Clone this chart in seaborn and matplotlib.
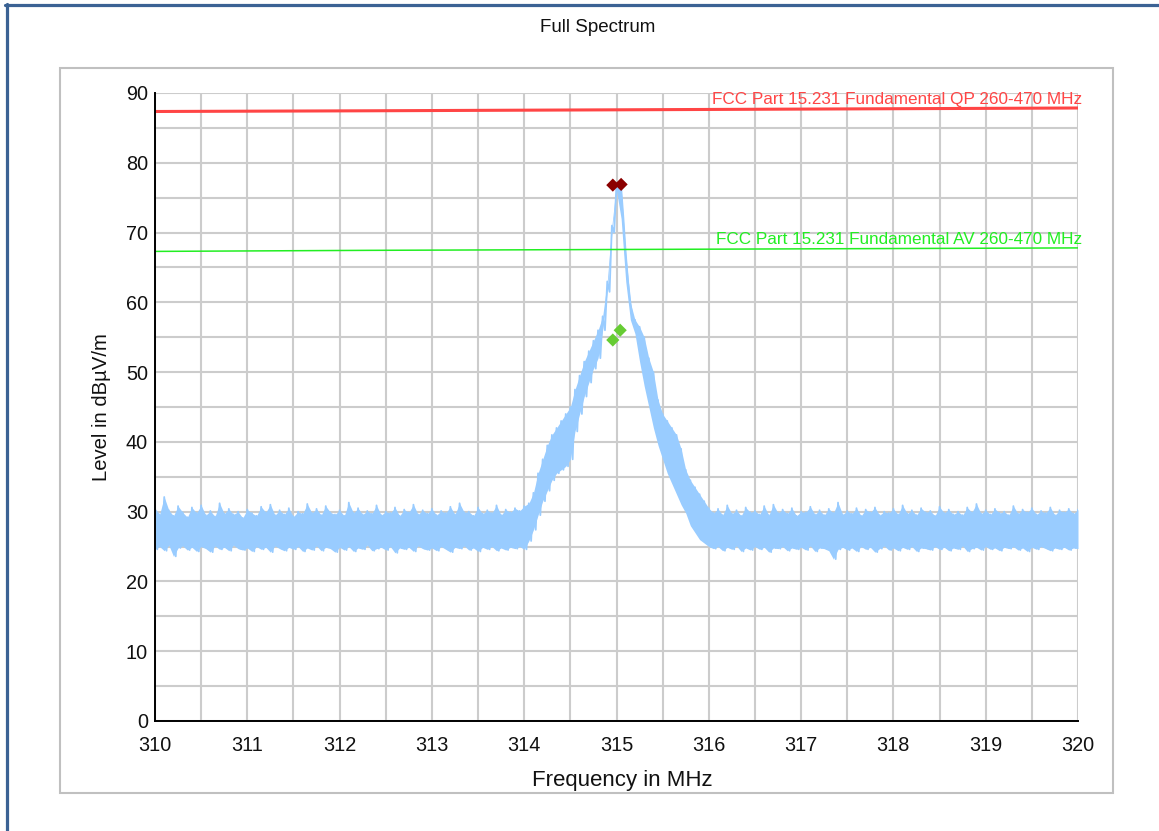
import numpy as np
import pandas as pd
import matplotlib
matplotlib.use("Agg")
import matplotlib.pyplot as plt
from matplotlib.patches import Rectangle
from matplotlib.lines import Line2D
from matplotlib.ticker import MultipleLocator
import seaborn as sns

# ---------------- data ----------------
# Sweep: 50 kHz bins from 310.00 to 320.00 MHz; per bin max (at bin start) and min (at bin centre)
bin_start = 310.0
bin_width = 0.05

# noise floor 310.00 .. 313.95 MHz
left_max = [30.5, 29.6, 32.1, 30.2, 29.4, 30.8, 29.9, 29.2, 30.6, 29.8,
            30.9, 29.5, 30.1, 29.3, 31.2, 29.7, 30.4, 29.6, 30.0, 29.1,
            30.3, 29.8, 29.4, 30.7, 29.9, 31.0, 29.5, 30.2, 29.6, 30.5,
            29.3, 30.0, 29.7, 31.1, 29.8, 30.4, 29.5, 30.8, 29.9, 29.6,
            30.2, 29.4, 31.3, 29.8, 30.5, 29.6, 30.1, 29.7, 30.9, 29.5,
            30.0, 29.8, 30.6, 29.4, 30.3, 29.9, 31.0, 29.6, 30.2, 29.7,
            30.4, 29.5, 30.1, 29.8, 30.7, 29.6, 31.2, 29.9, 30.0, 29.4,
            30.6, 29.7, 30.2, 29.8, 30.9, 29.5, 30.3, 29.9, 30.5, 30.1]
left_min = [24.6, 25.0, 24.4, 25.2, 23.6, 24.8, 25.1, 24.5, 24.9, 24.3,
            25.0, 24.7, 24.2, 25.1, 24.6, 24.9, 24.4, 25.2, 24.7, 24.5,
            24.8, 24.3, 25.0, 24.6, 24.9, 24.2, 25.1, 24.7, 24.4, 24.9,
            24.6, 25.0, 24.3, 24.8, 24.5, 25.1, 24.4, 24.9, 24.7, 24.2,
            24.9, 24.5, 25.0, 24.3, 24.8, 24.6, 25.2, 24.4, 24.7, 24.9,
            24.5, 25.0, 24.1, 24.8, 24.6, 24.9, 24.3, 25.1, 24.7, 24.5,
            24.8, 24.4, 25.0, 24.6, 24.2, 24.9, 24.7, 25.1, 24.5, 24.8,
            24.3, 24.9, 24.6, 25.0, 24.4, 24.8, 24.5, 24.9, 24.7, 25.0]

# carrier 314.00 .. 316.00 MHz
peak_max = [30.8, 31.2, 32.7, 35.5, 37.5, 39.5, 41.0, 42.0, 43.0, 44.0,
            45.0, 47.5, 49.5, 51.5, 53.0, 54.5, 56.0, 58.0, 63.0, 71.0,
            77.0, 76.5, 67.0, 60.0, 57.5, 56.5, 55.0, 52.0, 50.0, 46.0,
            44.0, 43.0, 42.0, 41.0, 39.0, 36.0, 34.5, 33.5, 32.5, 31.5,
            30.5]
peak_min = [24.6, 25.8, 27.4, 29.5, 31.5, 33.0, 34.5, 35.5, 36.0, 36.5,
            37.5, 41.5, 44.0, 46.5, 48.5, 50.5, 52.0, 56.0, 61.5, 70.0,
            76.0, 72.0, 63.0, 57.5, 55.5, 51.5, 48.0, 45.0, 42.0, 39.5,
            37.5, 35.5, 34.0, 32.5, 31.0, 29.8, 28.0, 27.0, 26.0, 25.5,
            25.0]

# noise floor 316.05 .. 320.00 MHz
right_max = [29.8, 30.4, 29.5, 30.9, 29.7, 30.2, 29.4, 30.6, 29.9, 30.1,
             29.6, 30.8, 29.5, 31.0, 29.8, 30.3, 29.7, 30.5, 29.4, 30.0,
             29.9, 30.7, 29.6, 30.2, 29.5, 30.4, 29.8, 31.3, 29.6, 30.1,
             29.7, 30.5, 29.4, 30.3, 29.9, 30.6, 29.5, 30.0, 29.8, 30.4,
             29.6, 30.9, 29.7, 30.2, 29.5, 30.5, 29.9, 30.1, 29.4, 30.7,
             29.8, 30.3, 29.6, 30.0, 29.5, 30.6, 29.9, 31.1, 29.7, 30.2,
             29.6, 30.4, 29.8, 30.0, 29.5, 30.8, 29.7, 30.3, 29.9, 30.5,
             29.6, 30.1, 29.8, 30.6, 29.5, 30.2, 29.9, 30.4, 29.7, 30.3]
right_min = [24.7, 25.0, 24.4, 24.9, 24.6, 25.1, 24.3, 24.8, 24.5, 25.0,
             24.6, 24.9, 24.2, 24.8, 24.7, 25.0, 24.4, 24.8, 24.6, 24.9,
             24.5, 25.1, 24.3, 24.8, 24.7, 24.4, 23.2, 24.6, 24.9, 24.5,
             24.8, 24.3, 25.0, 24.6, 24.9, 24.2, 24.7, 25.1, 24.5, 24.8,
             24.4, 24.9, 24.6, 25.0, 24.3, 24.8, 24.7, 24.5, 25.0, 24.6,
             24.9, 24.4, 24.8, 24.6, 25.1, 24.3, 24.7, 24.9, 24.5, 25.0,
             24.6, 24.8, 24.4, 24.9, 24.7, 25.0, 24.5, 24.8, 24.3, 24.9,
             24.6, 25.0, 24.7, 24.4, 24.8, 24.6, 24.9, 24.5, 24.8, 24.7]

# limit lines
limit_freq = [310.0, 312.3, 320.0]
qp_limit = [87.35, 87.45, 87.85]
av_limit = [67.3, 67.45, 67.8]
qp_label = "FCC Part 15.231 Fundamental QP 260-470 MHz"
av_label = "FCC Part 15.231 Fundamental AV 260-470 MHz"

# peak markers
qp_mark_freq = [314.96, 315.05]
qp_mark_level = [76.8, 76.9]
av_mark_freq = [314.96, 315.04]
av_mark_level = [54.6, 56.0]

x_ticks = [310, 311, 312, 313, 314, 315, 316, 317, 318, 319, 320]
y_ticks = [0, 10, 20, 30, 40, 50, 60, 70, 80, 90]

# ---------------- build trace ----------------
lvl_max = np.array(left_max + peak_max + right_max)
lvl_min = np.array(left_min + peak_min + right_min)
f_bins = bin_start + bin_width * np.arange(len(lvl_max))
trace_x = np.empty(2 * len(f_bins))
trace_y = np.empty(2 * len(f_bins))
trace_x[0::2] = f_bins
trace_x[1::2] = f_bins + bin_width / 2
trace_y[0::2] = lvl_max
trace_y[1::2] = lvl_min
trace = pd.DataFrame({"Frequency": trace_x, "Level": trace_y})

# ---------------- figure ----------------
sns.set_theme(style="white")
plt.rcParams["font.family"] = ["Liberation Sans", "DejaVu Sans"]

W, H = 1159, 831
fig = plt.figure(figsize=(W / 100, H / 100), dpi=100)
ax = fig.add_axes([155 / W, 1 - 721 / H, (1078 - 155) / W, (721 - 93) / H])

trace_color = "#99ccff"
# solid body of the trace between per-bin min and max
ax.fill_between(f_bins, lvl_min, lvl_max, color=trace_color, lw=0, zorder=3)
sns.lineplot(data=trace, x="Frequency", y="Level", sort=False, estimator=None,
             color=trace_color, lw=1.3, ax=ax, zorder=3)

sns.lineplot(x=limit_freq, y=qp_limit, color="#ff4545", lw=2.2, ax=ax, zorder=4)
sns.lineplot(x=limit_freq, y=av_limit, color="#22ee22", lw=1.1, ax=ax, zorder=4)

sns.scatterplot(x=qp_mark_freq, y=qp_mark_level, marker="D", s=45, color="#8b0000",
                edgecolor="none", ax=ax, zorder=6)
sns.scatterplot(x=av_mark_freq, y=av_mark_level, marker="D", s=45, color="#66cc33",
                edgecolor="none", ax=ax, zorder=6)

ax.text(320.05, qp_limit[-1] + 0.2, qp_label, color="#ff4545", ha="right", va="bottom",
        fontsize=12.3, zorder=5)
ax.text(320.05, av_limit[-1] + 0.2, av_label, color="#22ee22", ha="right", va="bottom",
        fontsize=12.3, zorder=5)

ax.set_xlim(310, 320)
ax.set_ylim(0, 90)
ax.set_xticks(x_ticks)
ax.set_yticks(y_ticks)
ax.xaxis.set_minor_locator(MultipleLocator(0.5))
ax.yaxis.set_minor_locator(MultipleLocator(5))
ax.grid(True, which="both", color="#cccccc", lw=1.5, zorder=0)
ax.set_axisbelow(True)
for s in ["top", "right"]:
    ax.spines[s].set_visible(False)
for s in ["left", "bottom"]:
    ax.spines[s].set_color("black")
    ax.spines[s].set_linewidth(1.4)
    ax.spines[s].set_zorder(7)
ax.tick_params(which="both", direction="inout", length=8, width=1.2, color="black")
ax.tick_params(axis="x", which="major", labelsize=14.3, pad=7, labelcolor="#111111")
ax.tick_params(axis="y", which="major", labelsize=14.3, pad=1, labelcolor="#111111")

ax.set_xlabel("Frequency in MHz", fontsize=16, color="#111111")
ax.set_ylabel("Level in dBµV/m", fontsize=14.6, color="#111111")
ax.xaxis.set_label_coords((622 - 155) / 923, (721 - 770) / 628)
ax.yaxis.set_label_coords((111 - 155) / 923, 0.5)

fig.text(598 / W, 1 - 27 / H, "Full Spectrum", ha="center", va="center",
         fontsize=13.5, color="#111111")

# grey panel frame
fig.patches.append(Rectangle((60 / W, 1 - 793 / H), (1113 - 60) / W, (793 - 68) / H,
                             transform=fig.transFigure, fill=False,
                             edgecolor="#c0c0c0", lw=1.5))
# blue outer border (top and left)
fig.add_artist(Line2D([6.5 / W, 6.5 / W], [0, 1 - 4 / H], transform=fig.transFigure,
                      color="#3b6294", lw=2.3))
fig.add_artist(Line2D([5 / W, 1], [1 - 5 / H, 1 - 5 / H], transform=fig.transFigure,
                      color="#3b6294", lw=2.3))

fig.savefig("out.png", dpi=100)
